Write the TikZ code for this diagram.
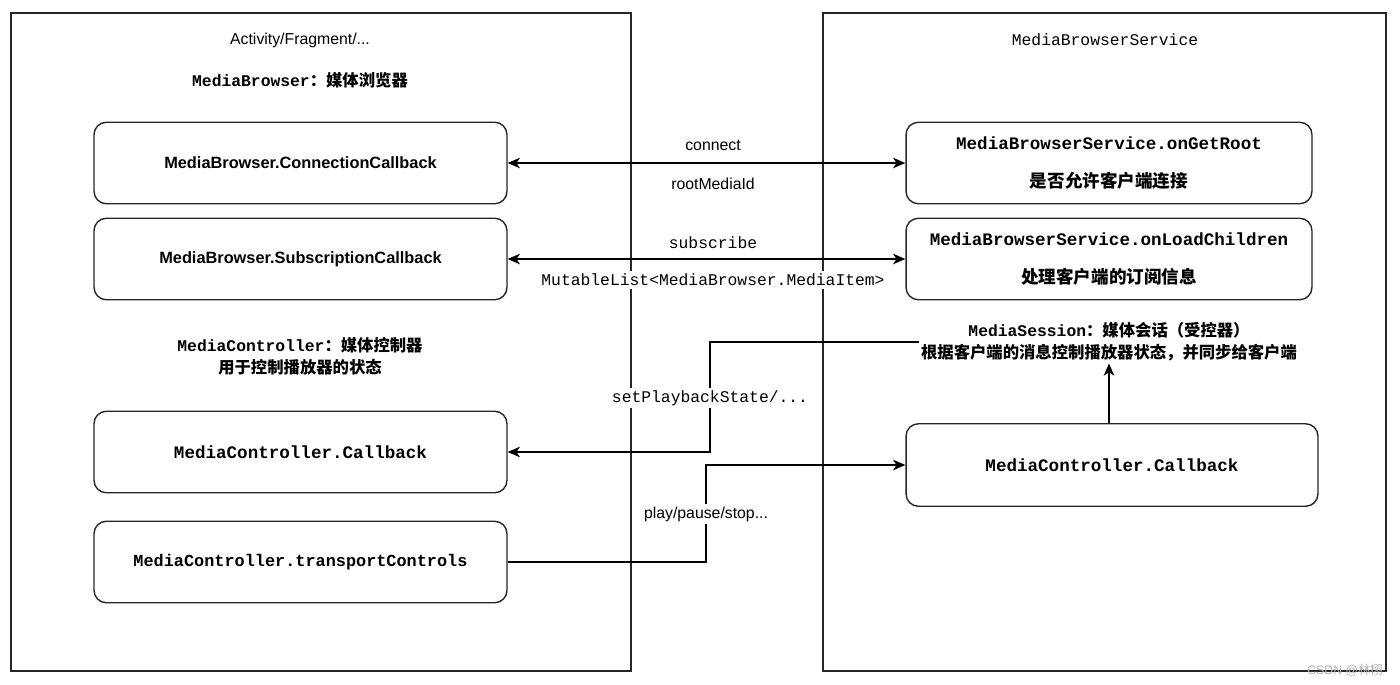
\documentclass[tikz,border=0pt]{standalone}
\usepackage{fontspec}
\setmainfont{Liberation Sans}
\setmonofont{Liberation Mono}
\newfontfamily\cjk{Noto Sans CJK SC}
\usetikzlibrary{arrows.meta}

\begin{document}
\begin{tikzpicture}[x=0.02cm,y=-0.02cm,
  frame/.style={draw=black!85,line width=1.1pt},
  box/.style={draw=black!85,rounded corners=7pt,line width=0.8pt,fill=white,
    minimum width=8.26cm,minimum height=1.63cm,align=center,inner sep=2pt,
    font=\fontsize{10}{12}\selectfont\bfseries},
  edge/.style={-{Stealth[length=7pt,width=6pt,inset=2pt]},line width=0.75pt},
  both/.style={{Stealth[length=7pt,width=6pt,inset=2pt]}-{Stealth[length=7pt,width=6pt,inset=2pt]},line width=0.75pt},
  note/.style={fill=white,inner sep=1.5pt,font=\fontsize{9}{11}\selectfont},
  code/.style={fill=white,inner sep=1.5pt,font=\fontsize{9.3}{11}\selectfont\ttfamily},
  head/.style={align=center,inner sep=1pt,font=\fontsize{9.3}{12.5}\selectfont\bfseries}]
\useasboundingbox (0,0) rectangle (1400,684);
\draw[frame] (11,13) rectangle (631,671);
\draw[frame] (823,13) rectangle (1386,671);
\node[note] (client) at (300,40) {Activity/Fragment/...};
\node[code] (service) at (1105,40) {MediaBrowserService};
\node[head] (browser) at (300,80) {\ttfamily MediaBrowser\cjk：媒体浏览器};
\node[head] (controller) at (300,356) {\ttfamily MediaController\cjk：媒体控制器\\\cjk 用于控制播放器的状态};
\node[head] (session) at (1109,342) {\ttfamily MediaSession\cjk：媒体会话（受控器）\\\cjk 根据客户端的消息控制播放器状态，并同步给客户端};
\node[box,font=\fontsize{9.3}{11}\selectfont\bfseries] (connCb) at (300.5,163) {MediaBrowser.ConnectionCallback};
\node[box,font=\fontsize{9.3}{11}\selectfont\bfseries] (subCb) at (300.5,259) {MediaBrowser.SubscriptionCallback};
\node[box] (ctrlCb) at (300.5,452) {\ttfamily MediaController.Callback};
\node[box,font=\fontsize{9.6}{12}\selectfont\bfseries] (transport) at (300.5,562) {\ttfamily MediaController.transportControls};
\node[box,minimum width=8.12cm] (getRoot) at (1109,163) {\ttfamily MediaBrowserService.onGetRoot\\[10pt]\cjk 是否允许客户端连接};
\node[box,minimum width=8.12cm] (loadChildren) at (1109,259) {\ttfamily MediaBrowserService.onLoadChildren\\[10pt]\cjk 处理客户端的订阅信息};
\node[box,minimum width=8.24cm,minimum height=1.65cm] (sessionCb) at (1112,465) {\ttfamily MediaController.Callback};
\coordinate (stateBend) at (710,342);
\coordinate (playBend) at (706,465);
\draw[both] (connCb.east) -- (getRoot.west);
\draw[both] (subCb.east) -- (loadChildren.west);
\draw[edge] (session.west) -- (stateBend) |- (ctrlCb.east);
\draw[edge] (transport.east) -| (playBend) -- (sessionCb.west);
\draw[edge] (sessionCb.north -| session.south) -- (session.south);
\node[note] (connectLbl) at (713,145) {connect};
\node[note] (rootLbl) at (713,184) {rootMediaId};
\node[code] (subLbl) at (713,243) {subscribe};
\node[code] (listLbl) at (713,280) {MutableList<MediaBrowser.MediaItem>};
\node[code] (stateLbl) at (710,398) {setPlaybackState/...};
\node[note] (playLbl) at (706,514) {play/pause/stop...};
\node[text=black!30,inner sep=0pt,font=\fontsize{7}{8}\selectfont] (mark) at (1345,670) {CSDN @\cjk 林栩};
\end{tikzpicture}
\end{document}
